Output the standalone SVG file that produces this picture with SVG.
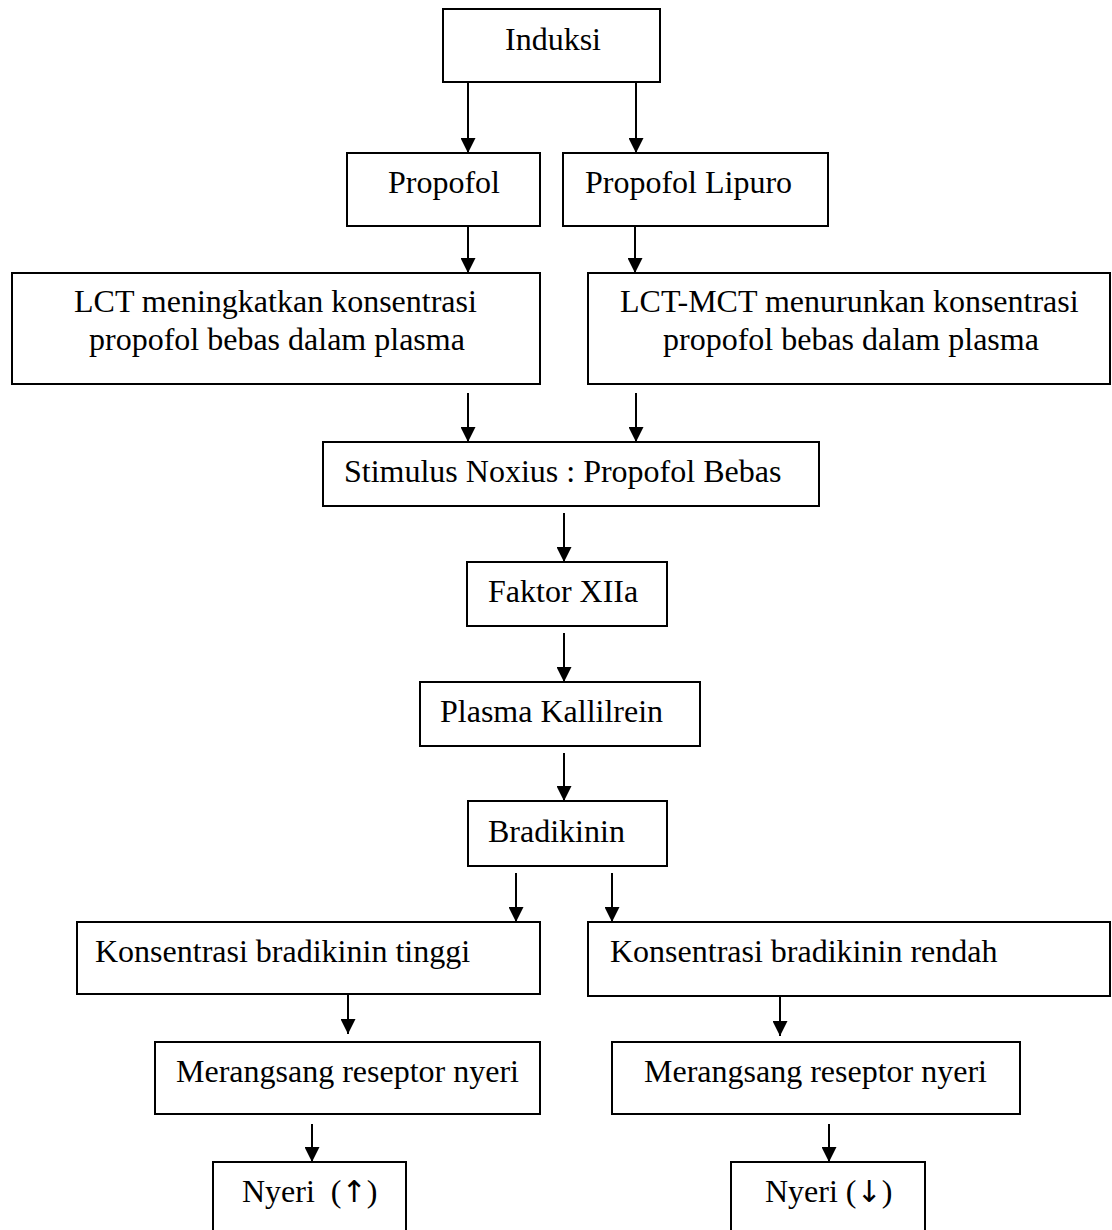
<svg xmlns="http://www.w3.org/2000/svg" width="1112" height="1230" viewBox="0 0 1112 1230">
<defs>
<marker id="ad" markerUnits="userSpaceOnUse" markerWidth="15" markerHeight="16" refX="7.5" refY="15" orient="0" viewBox="0 0 15 16">
<path d="M0,0 L15,0 L7.5,15 Z" fill="#000"/>
</marker>
<style>
.box{fill:#fff;stroke:#000;stroke-width:2}
.t{font-family:"Liberation Serif","Times New Roman",serif;font-size:32px;fill:#000;white-space:pre}
.ar{font-family:"DejaVu Sans",sans-serif;font-size:30px}
.c{stroke:#000;stroke-width:2;fill:none;marker-end:url(#ad)}
</style>
</defs>
<rect width="1112" height="1230" fill="#fff"/>
<g id="connectors">
<line class="c" x1="468" y1="82" x2="468" y2="153"/>
<line class="c" x1="636" y1="82" x2="636" y2="153"/>
<line class="c" x1="468" y1="226" x2="468" y2="273"/>
<line class="c" x1="635" y1="226" x2="635" y2="273"/>
<line class="c" x1="468" y1="393" x2="468" y2="442"/>
<line class="c" x1="636" y1="393" x2="636" y2="442"/>
<line class="c" x1="564" y1="513" x2="564" y2="562"/>
<line class="c" x1="564" y1="633" x2="564" y2="682"/>
<line class="c" x1="564" y1="753" x2="564" y2="801"/>
<line class="c" x1="516" y1="873" x2="516" y2="922"/>
<line class="c" x1="612" y1="873" x2="612" y2="922"/>
<line class="c" x1="348" y1="994" x2="348" y2="1034"/>
<line class="c" x1="780" y1="993" x2="780" y2="1036"/>
<line class="c" x1="312" y1="1124" x2="312" y2="1162"/>
<line class="c" x1="829" y1="1124" x2="829" y2="1162"/>
</g>
<g id="induksi"><rect class="box" x="443" y="9" width="217" height="73"/><text class="t" x="505" y="50">Induksi</text></g>
<g id="propofol"><rect class="box" x="347" y="153" width="193" height="73"/><text class="t" x="388" y="193">Propofol</text></g>
<g id="propofol-lipuro"><rect class="box" x="563" y="153" width="265" height="73"/><text class="t" x="585" y="193">Propofol Lipuro</text></g>
<g id="lct"><rect class="box" x="12" y="273" width="528" height="111"/><text class="t" x="74" y="312">LCT meningkatkan konsentrasi</text><text class="t" x="89" y="350">propofol bebas dalam plasma</text></g>
<g id="lct-mct"><rect class="box" x="588" y="273" width="522" height="111"/><text class="t" x="620" y="312">LCT-MCT menurunkan konsentrasi</text><text class="t" x="663" y="350">propofol bebas dalam plasma</text></g>
<g id="stimulus"><rect class="box" x="323" y="442" width="496" height="64"/><text class="t" x="344" y="482">Stimulus Noxius : Propofol Bebas</text></g>
<g id="faktor"><rect class="box" x="467" y="562" width="200" height="64"/><text class="t" x="488" y="602">Faktor XIIa</text></g>
<g id="plasma"><rect class="box" x="420" y="682" width="280" height="64"/><text class="t" x="440" y="722">Plasma Kallilrein</text></g>
<g id="bradikinin"><rect class="box" x="468" y="801" width="199" height="65"/><text class="t" x="488" y="842">Bradikinin</text></g>
<g id="konsentrasi-tinggi"><rect class="box" x="77" y="922" width="463" height="72"/><text class="t" x="95" y="962">Konsentrasi bradikinin tinggi</text></g>
<g id="konsentrasi-rendah"><rect class="box" x="588" y="922" width="522" height="74"/><text class="t" x="610" y="962">Konsentrasi bradikinin rendah</text></g>
<g id="merangsang-kiri"><rect class="box" x="155" y="1042" width="385" height="72"/><text class="t" x="176" y="1082">Merangsang reseptor nyeri</text></g>
<g id="merangsang-kanan"><rect class="box" x="612" y="1042" width="408" height="72"/><text class="t" x="644" y="1082">Merangsang reseptor nyeri</text></g>
<g id="nyeri-naik"><rect class="box" x="213" y="1162" width="193" height="90"/><text class="t" x="242" y="1202">Nyeri  (<tspan class="ar">↑</tspan>)</text></g>
<g id="nyeri-turun"><rect class="box" x="731" y="1162" width="194" height="90"/><text class="t" x="765" y="1202">Nyeri (<tspan class="ar">↓</tspan>)</text></g>
</svg>
